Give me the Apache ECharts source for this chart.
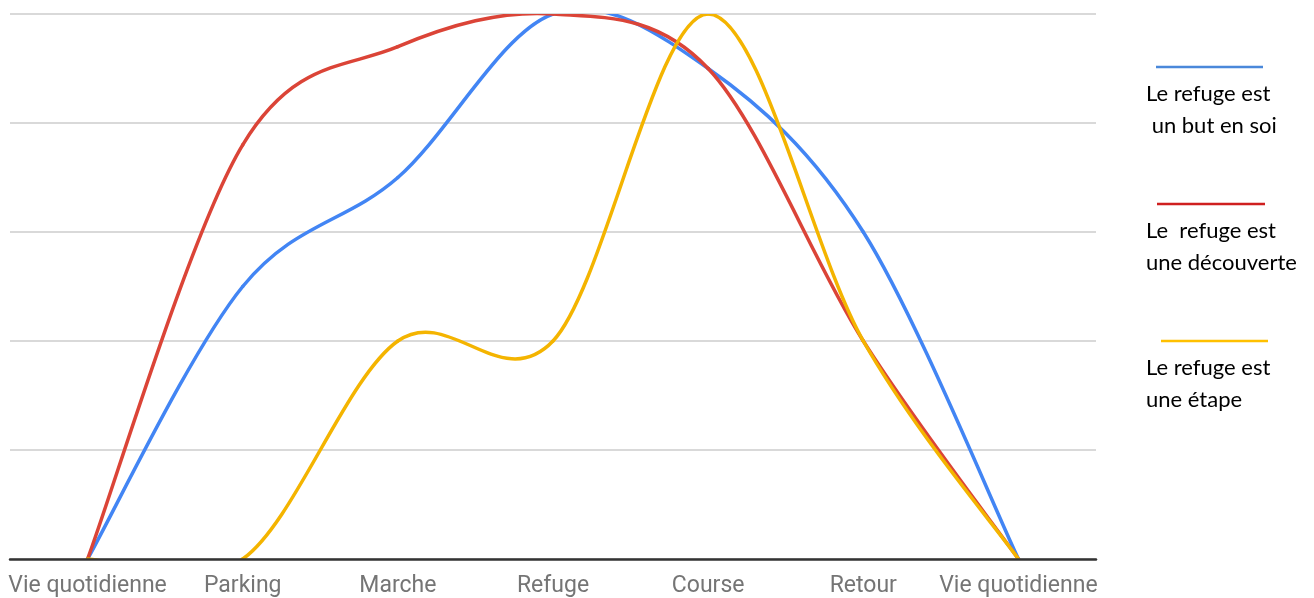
<!DOCTYPE html>
<html>
<head>
<meta charset="utf-8">
<script src="https://cdn.jsdelivr.net/npm/echarts@6/dist/echarts.min.js"></script>
<style>
html,body{margin:0;padding:0;background:#fff;}
#chart{width:1314px;height:598px;}
</style>
</head>
<body>
<div id="chart"></div>
<script>
const categories = ['Vie quotidienne', 'Parking', 'Marche', 'Refuge', 'Course', 'Retour', 'Vie quotidienne'];
const butEnSoi = [0, 2.5, 3.5, 5, 4.5, 3.0, 0];
const decouverte = [0, 3.8, 4.7, 5, 4.5, 2.0, 0];
const etape = [0, 0, 2.0, 2.0, 5, 2.0, 0];
const seriesNames = ['Le refuge est un but en soi', 'Le refuge est une découverte', 'Le refuge est une étape'];
const legendLines = [['Le refuge est', ' un but en soi'], ['Le  refuge est', 'une découverte'], ['Le refuge est', 'une étape']];

const lineColors = ['#4285F4', '#DB4437', '#F4B400'];
const legendColors = ['#4a88da', '#cf1f1f', '#ffc000'];

const chart = echarts.init(document.getElementById('chart'), null, {renderer: 'canvas'});

const legendGraphics = [];
const legendY = [67, 204, 341];
const legendX = [[1156, 1263], [1157, 1265], [1161, 1268]];
for (let i = 0; i < 3; i++) {
  legendGraphics.push({
    type: 'line',
    shape: {x1: legendX[i][0], y1: legendY[i], x2: legendX[i][1], y2: legendY[i]},
    style: {stroke: legendColors[i], lineWidth: 2.5}
  });
  legendGraphics.push({
    type: 'text',
    x: 1146, y: legendY[i] + 27,
    style: {text: legendLines[i][0], fill: '#000', font: '22px Lato', verticalAlign: 'middle', align: 'left'}
  });
  legendGraphics.push({
    type: 'text',
    x: 1146, y: legendY[i] + 59,
    style: {text: legendLines[i][1], fill: '#000', font: '22px Lato', verticalAlign: 'middle', align: 'left'}
  });
}

// Smooth curve (cardinal spline, as the original chart tool draws it),
// one cubic segment per data item, positioned through the axes (api.coord).
function mkSeries(idx, values) {
  return {
    name: seriesNames[idx],
    type: 'custom',
    clip: true,
    z: 2,
    data: values.map(function (v, i) { return [i, v]; }),
    encode: {x: 0, y: 1},
    renderItem: function (params, api) {
      const i = params.dataIndex;
      const n = values.length;
      if (i >= n - 1) return null;
      const pt = function (k) {
        k = Math.max(0, Math.min(n - 1, k));
        return api.coord([k, values[k]]);
      };
      const p0 = pt(i), p1 = pt(i + 1);
      const pPrev = i > 0 ? pt(i - 1) : p0;
      const pNext = i + 2 < n ? pt(i + 2) : p1;
      const t0 = [(p1[0] - pPrev[0]) / 6, (p1[1] - pPrev[1]) / 6];
      const t1 = [(pNext[0] - p0[0]) / 6, (pNext[1] - p0[1]) / 6];
      return {
        type: 'bezierCurve',
        shape: {
          x1: p0[0], y1: p0[1], x2: p1[0], y2: p1[1],
          cpx1: p0[0] + t0[0], cpy1: p0[1] + t0[1],
          cpx2: p1[0] - t1[0], cpy2: p1[1] - t1[1]
        },
        style: {stroke: lineColors[idx], lineWidth: 3.5, fill: null, lineCap: 'round'}
      };
    }
  };
}

const option = {
  animation: false,
  backgroundColor: '#fff',
  grid: {left: 10, top: 14, width: 1086, bottom: 38, containLabel: false},
  xAxis: {
    type: 'category',
    data: categories,
    boundaryGap: true,
    z: 5,
    axisLine: {lineStyle: {color: '#333', width: 2.5}},
    axisTick: {show: false},
    axisLabel: {color: '#757575', fontFamily: 'Roboto', fontSize: 23, margin: 16, interval: 0},
    splitLine: {show: false}
  },
  yAxis: {
    type: 'value',
    min: 0, max: 5, interval: 1,
    axisLabel: {show: false},
    axisLine: {show: false},
    axisTick: {show: false},
    splitLine: {lineStyle: {color: '#cccccc', width: 1.5}}
  },
  series: [mkSeries(0, butEnSoi), mkSeries(1, decouverte), mkSeries(2, etape)],
  graphic: legendGraphics
};
chart.setOption(option);
</script>
</body>
</html>
